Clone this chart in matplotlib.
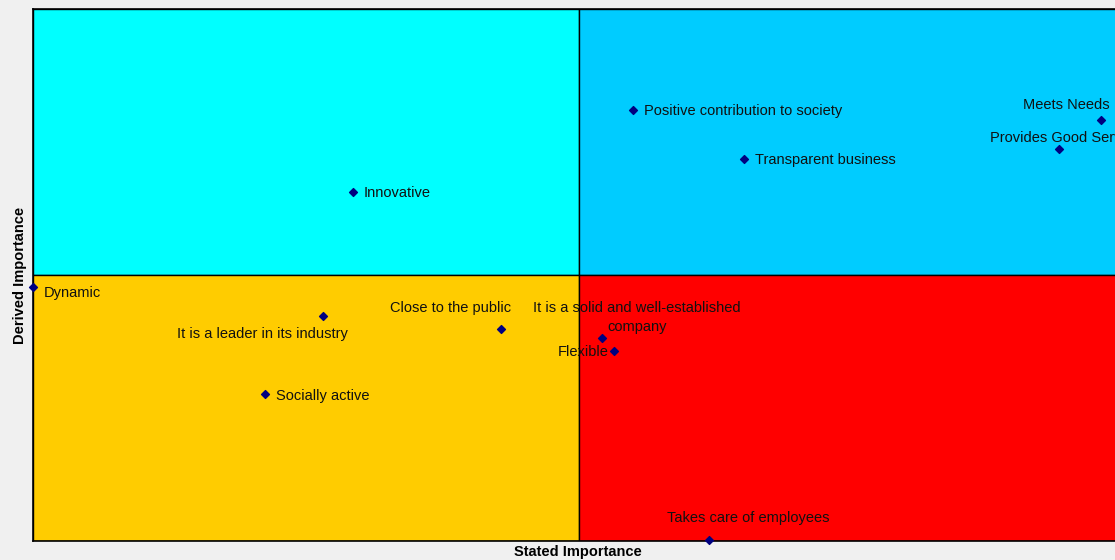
import matplotlib.pyplot as plt
from matplotlib.patches import Rectangle

plt.rcParams['font.family'] = ['Liberation Sans', 'DejaVu Sans']

# Attribute positions (stated importance, derived importance), 0-100 scale
labels = ['Dynamic', 'Innovative', 'It is a leader in its industry', 'Socially active',
          'Close to the public', 'It is a solid and well-established\ncompany', 'Flexible',
          'Takes care of employees', 'Positive contribution to society',
          'Transparent business', 'Meets Needs', 'Provides Good Service']
stated = [0.0, 29.3, 26.6, 21.2, 42.9, 52.1, 53.2, 61.9, 54.9, 65.1, 97.8, 94.0]
derived = [47.7, 65.6, 42.3, 27.6, 39.8, 38.2, 35.7, 0.2, 81.0, 71.8, 79.1, 73.7]

# label placement: offset in points, ha
label_pos = [
    ((8, -4), 'left'),
    ((8, -1), 'left'),
    ((-44, -13), 'center'),
    ((8, -1), 'left'),
    ((-37, 15.5), 'center'),
    ((25, 14.5), 'center'),
    ((-4, -1), 'right'),
    ((28, 15.5), 'center'),
    ((8, -1), 'left'),
    ((8, -1), 'left'),
    ((6.5, 11), 'right'),
    ((-50, 7.5), 'left'),
]

fig = plt.figure(figsize=(11.15, 5.6), dpi=100)
fig.patch.set_facecolor('#f0f0f0')
ax = fig.add_axes([33 / 1115, 19 / 560, 1092 / 1115, 532 / 560])
ax.set_xlim(0, 100)
ax.set_ylim(0, 100)

# quadrants
ax.add_patch(Rectangle((0, 50), 50, 50, facecolor='#00ffff', edgecolor='black', lw=1, zorder=0))
ax.add_patch(Rectangle((50, 50), 50, 50, facecolor='#00ccff', edgecolor='black', lw=1, zorder=0))
ax.add_patch(Rectangle((0, 0), 50, 50, facecolor='#ffcc00', edgecolor='black', lw=1, zorder=0))
ax.add_patch(Rectangle((50, 0), 50, 50, facecolor='#ff0000', edgecolor='black', lw=1, zorder=0))

ax.scatter(stated, derived, marker='D', s=16, color='#000080', zorder=3, clip_on=False)
for lab, x, y, (off, ha) in zip(labels, stated, derived, label_pos):
    ax.annotate(lab, (x, y), xytext=off, textcoords='offset points', ha=ha, va='center',
                fontsize=10.5, color='#111111', zorder=4, multialignment='center',
                linespacing=1.45)

ax.set_xticks([])
ax.set_yticks([])
for s in ax.spines.values():
    s.set_linewidth(1.2)
    s.set_color('black')

fig.text(578 / 1115, 1 - 552 / 560, 'Stated Importance', ha='center', va='center',
         fontsize=10.5, fontweight='bold')
fig.text(20 / 1115, 1 - 275 / 560, 'Derived Importance', ha='center', va='center',
         fontsize=10.5, fontweight='bold', rotation=90)

fig.savefig('out.png', dpi=100, facecolor=fig.get_facecolor())
